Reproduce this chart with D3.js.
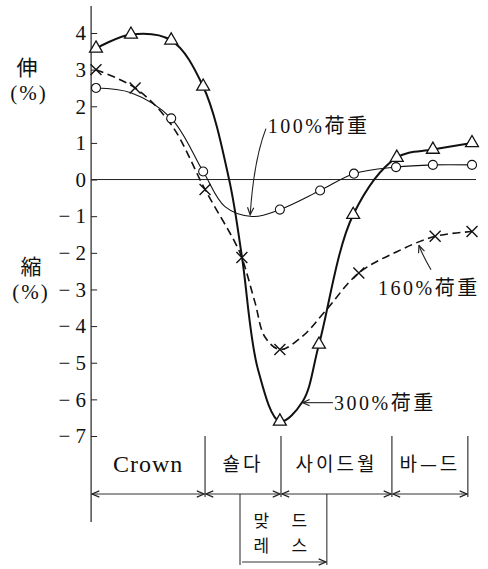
<!DOCTYPE html>
<html>
<head>
<meta charset="utf-8">
<script src="https://cdn.jsdelivr.net/npm/d3@7"></script>
<style>
  body { margin: 0; background: #fff; }
  svg { display: block; }
  text { fill: #111; }
</style>
</head>
<body>
<script>
// stations along the tyre section: 0 = crown centre ... 10 = bead
// each load curve: knots, marks = knots that carry a symbol
const x100 = [0, 0.93, 2.0, 2.85, 3.43, 4.15, 4.89, 5.96, 6.86, 7.98, 8.96, 10]
const y100 = [2.5, 2.37, 1.67, 0.22, -0.74, -1.01, -0.82, -0.3, 0.16, 0.34, 0.4, 0.4]
const marks100 = [0, 2, 3, 6, 7, 8, 9, 10, 11]

const x160 = [0, 1.04, 2.0, 2.9, 3.7, 3.88, 4.23, 4.49, 4.89, 5.48, 6.09, 6.99, 8.0, 9.02, 10]
const y160 = [3.0, 2.5, 1.5, -0.27, -1.72, -2.13, -3.36, -4.29, -4.64, -4.29, -3.6, -2.55, -1.97, -1.55, -1.42]
const marks160 = [0, 1, 3, 5, 8, 11, 13, 14]

const x300 = [0, 0.93, 2.0, 2.85, 3.54, 3.88, 4.31, 4.89, 5.5, 5.93, 6.84, 8.0, 8.96, 10]
const y300 = [3.58, 3.96, 3.8, 2.54, 0, -2.1, -5.19, -6.6, -6.05, -4.5, -0.96, 0.6, 0.82, 1.0]
const marks300 = [0, 1, 2, 3, 7, 9, 10, 11, 12, 13]

const yTicks = [4, 3, 2, 1, 0, -1, -2, -3, -4, -5, -6, -7]

// tyre zones under the chart (edges in station units)
const zoneNames = ['Crown', '숄다', '사이드월', '바—드']
const zoneEdges = [-0.13, 2.9, 4.92, 7.87, 9.89]
const mattressEdges = [3.83, 6.14]
const mattressRows = [['맞', '드'], ['레', '스']]

const width = 488
const height = 569

const svg = d3.select('body').append('svg')
  .attr('width', width)
  .attr('height', height)

var x = d3.scaleLinear().domain([0, 10]).range([96, 472])
var y = d3.scaleLinear().domain([-7, 4]).range([436, 33])

const serif = "'Liberation Serif', 'Times New Roman', Times, 'Nimbus Roman', 'Noto Serif', 'DejaVu Serif', FreeSerif, serif"
const jp = serif.replace(', serif', ", 'Noto Sans CJK JP', serif")
const kr = "'Noto Sans CJK KR', sans-serif"

// arrow heads
const defs = svg.append('defs')
defs.append('marker')
  .attr('id', 'head')
  .attr('viewBox', '0 0 10 10')
  .attr('refX', 9).attr('refY', 5)
  .attr('markerWidth', 9).attr('markerHeight', 9)
  .attr('markerUnits', 'userSpaceOnUse')
  .attr('orient', 'auto-start-reverse')
  .append('path')
  .attr('d', 'M1,1.5 L9,5 L1,8.5')
  .attr('fill', 'none')
  .attr('stroke', '#222')
  .attr('stroke-width', 1.3)

// y axis (line drawn separately, it runs past the value range)
const axisX = x(zoneEdges[0])
svg.append('line')
  .attr('x1', axisX).attr('x2', axisX)
  .attr('y1', 6).attr('y2', 522)
  .attr('stroke', '#222').attr('stroke-width', 1.2)

const yAxis = svg.append('g')
  .attr('transform', 'translate(' + axisX + ',0)')
  .call(d3.axisLeft(y)
    .tickValues(yTicks)
    .tickSizeInner(-6)
    .tickSizeOuter(0)
    .tickPadding(5)
    .tickFormat(function (d) { return d < 0 ? '\u2212\u2005' + (-d) : d }))
yAxis.attr('font-family', null)
yAxis.select('.domain').remove()
yAxis.selectAll('line').attr('stroke', '#222')
yAxis.selectAll('text')
  .style('font-family', serif)
  .attr('font-size', 21)
  .attr('fill', '#111')

// zero line
svg.append('line')
  .attr('x1', axisX).attr('x2', 476)
  .attr('y1', y(0)).attr('y2', y(0))
  .attr('stroke', '#222').attr('stroke-width', 1)

// axis captions
function caption (txt, cx, cy, fam, spacing) {
  svg.append('text')
    .attr('x', cx).attr('y', cy)
    .attr('text-anchor', 'middle')
    .style('font-family', fam)
    .attr('font-size', 21)
    .attr('letter-spacing', spacing)
    .text(txt)
}
caption('伸', 27, 75, "'Noto Sans CJK JP'", 0)
caption('(%)', 29, 100, serif, 2)
caption('縮', 31, 274, "'Noto Sans CJK JP'", 0)
caption('(%)', 31, 299, serif, 2)

// curves
var line = d3.line()
  .x(function (d) { return x(d[0]) })
  .y(function (d) { return y(d[1]) })
  .curve(d3.curveCatmullRom.alpha(0.5))

function pairs (xs, ys) { return xs.map(function (v, i) { return [v, ys[i]] }) }

svg.append('path')
  .datum(pairs(x160, y160))
  .attr('d', line)
  .attr('fill', 'none')
  .attr('stroke', '#111')
  .attr('stroke-width', 1.6)
  .attr('stroke-dasharray', '8,4.5')

svg.append('path')
  .datum(pairs(x100, y100))
  .attr('d', line)
  .attr('fill', 'none')
  .attr('stroke', '#111')
  .attr('stroke-width', 1.1)

svg.append('path')
  .datum(pairs(x300, y300))
  .attr('d', line)
  .attr('fill', 'none')
  .attr('stroke', '#111')
  .attr('stroke-width', 2)

// point symbols
function symbols (xs, ys, marks, type, size, sw) {
  svg.append('g')
    .selectAll('path')
    .data(marks)
    .join('path')
    .attr('transform', function (i) { return 'translate(' + x(xs[i]) + ',' + y(ys[i]) + ')' })
    .attr('d', d3.symbol(type).size(size))
    .attr('fill', type === d3.symbolTimes ? 'none' : '#fff')
    .attr('stroke', '#111')
    .attr('stroke-width', sw)
}
symbols(x160, y160, marks160, d3.symbolTimes, 80, 1.4)
symbols(x100, y100, marks100, d3.symbolCircle, 64, 1.1)
symbols(x300, y300, marks300, d3.symbolTriangle, 72, 1.3)

// load labels with leader arrows
function label (txt, u, v) {
  svg.append('text')
    .attr('x', x(u)).attr('y', y(v))
    .style('font-family', jp)
    .attr('font-size', 20)
    .attr('letter-spacing', 2.5)
    .text(txt)
}
function leader (u0, v0, uc, vc, u1, v1) {
  var p = d3.path()
  p.moveTo(x(u0), y(v0))
  p.quadraticCurveTo(x(uc), y(vc), x(u1), y(v1))
  svg.append('path')
    .attr('d', p.toString())
    .attr('fill', 'none')
    .attr('stroke', '#222')
    .attr('stroke-width', 1.1)
    .attr('marker-end', 'url(#head)')
}
label('100%荷重', 4.57, 1.28)
leader(4.52, 1.39, 4.2, 0.55, 4.1, -0.96)
label('160%荷重', 7.5, -3.14)
leader(8.91, -2.46, 8.7, -2.1, 8.59, -1.8)
label('300%荷重', 6.33, -6.28)
leader(6.30, -6.09, 5.9, -6.09, 5.49, -6.09)

// zone dimension lines
const dimY = 494
const zones = svg.append('g')
zoneEdges.slice(1).forEach(function (e) {
  zones.append('line')
    .attr('x1', x(e)).attr('x2', x(e))
    .attr('y1', 436).attr('y2', 497)
    .attr('stroke', '#222').attr('stroke-width', 1.1)
})
zoneNames.forEach(function (name, i) {
  var a = x(zoneEdges[i])
  var b = x(zoneEdges[i + 1])
  zones.append('line')
    .attr('x1', a + 1).attr('x2', b - 1)
    .attr('y1', dimY).attr('y2', dimY)
    .attr('stroke', '#333').attr('stroke-width', 1)
    .attr('marker-start', 'url(#head)')
    .attr('marker-end', 'url(#head)')
  var isLatin = /[A-Za-z]/.test(name)
  zones.append('text')
    .attr('x', (a + b) / 2)
    .attr('y', isLatin ? 472 : 471)
    .attr('text-anchor', 'middle')
    .style('font-family', isLatin ? serif : kr)
    .attr('font-size', isLatin ? 24 : 19)
    .attr('letter-spacing', isLatin ? 1 : 3)
    .text(name)
})

// mattress zone hangs below the dimension line
var m0 = x(mattressEdges[0])
var m1 = x(mattressEdges[1])
mattressEdges.forEach(function (e) {
  zones.append('line')
    .attr('x1', x(e)).attr('x2', x(e))
    .attr('y1', dimY).attr('y2', 565)
    .attr('stroke', '#222').attr('stroke-width', 1)
})
zones.append('line')
  .attr('x1', m0 + 2).attr('x2', m1 - 1)
  .attr('y1', 562).attr('y2', 562)
  .attr('stroke', '#333').attr('stroke-width', 1)
  .attr('marker-end', 'url(#head)')
var mc = (m0 + m1) / 2
mattressRows.forEach(function (row, r) {
  row.forEach(function (ch, c) {
    zones.append('text')
      .attr('x', c === 0 ? mc - 22 : mc + 16)
      .attr('y', 527 + r * 25)
      .attr('text-anchor', 'middle')
      .style('font-family', kr)
      .attr('font-size', 17)
      .text(ch)
  })
})
</script>
</body>
</html>
